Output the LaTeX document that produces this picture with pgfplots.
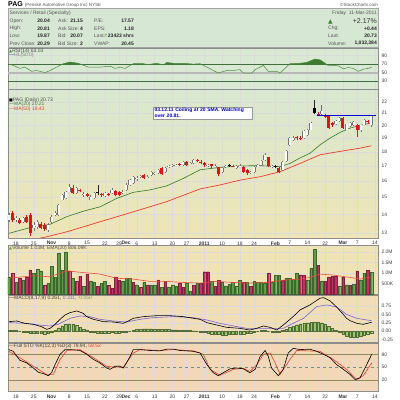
\documentclass[border=0pt]{standalone}
\usepackage{pgfplots}
\pgfplotsset{compat=1.18}
\usepackage{pgfplotstable}
\usetikzlibrary{shadows}
\usepackage{fontspec}
\setmainfont{Liberation Sans}
\newfontfamily\symfont{DejaVu Sans}

\definecolor{hdrbg}{HTML}{D6E8D3}
\definecolor{rsibg}{HTML}{D9E9D3}
\definecolor{pricetop}{HTML}{D9E8D1}
\definecolor{pricebot}{HTML}{EFE5B6}
\definecolor{volbg}{HTML}{F0E3B5}
\definecolor{macdbg}{HTML}{F1DDB6}
\definecolor{stobg}{HTML}{F2D8B8}
\definecolor{ma20}{HTML}{2F7A22}
\definecolor{ma50}{HTML}{F03A2A}
\definecolor{candred}{HTML}{E01414}
\definecolor{volgreen}{HTML}{5E9E48}
\definecolor{volred}{HTML}{C33262}
\definecolor{volema}{HTML}{F04A3A}
\definecolor{rsiline}{HTML}{4A8B3C}
\definecolor{rsifill}{HTML}{3C7D32}
\definecolor{rsiref}{HTML}{3F6F3F}
\definecolor{sigline}{HTML}{7A62D8}
\definecolor{histgreen}{HTML}{95C76A}
\definecolor{stoline}{HTML}{8C8C5C}
\definecolor{stored}{HTML}{F03A2A}
\definecolor{lblgray}{HTML}{555555}

\pgfplotstableread{
i o h l c t
0 13.68 14.05 13.60 13.96 0
1 14.09 14.20 13.60 13.68 1
2 13.70 13.90 13.60 13.78 0
3 13.68 13.80 13.45 13.50 1
4 13.59 13.85 13.50 13.77 0
5 13.87 13.95 13.50 13.59 1
6 13.96 14.05 12.85 12.97 1
7 13.25 13.60 13.10 13.40 0
8 13.32 13.70 13.20 13.59 0
9 13.45 13.55 13.20 13.27 1
10 13.41 13.50 13.10 13.20 1
11 13.14 13.50 13.05 13.41 0
12 13.59 13.95 13.50 13.86 0
13 13.96 14.20 13.90 14.05 0
14 13.96 14.60 13.90 14.53 0
15 14.83 15.20 14.80 15.13 0
16 14.93 15.40 14.90 15.33 0
17 15.33 15.80 15.30 15.64 0
18 15.58 15.75 15.20 15.23 1
19 15.23 15.60 15.20 15.54 0
20 15.42 15.50 15.30 15.36 1
21 15.10 15.30 15.00 15.18 0
22 15.18 15.25 15.00 15.05 1
23 14.85 15.10 14.80 15.03 0
24 14.95 15.30 14.90 15.23 0
25 15.32 15.75 15.10 15.26 2
26 15.18 15.25 15.00 15.10 1
27 15.05 15.30 15.00 15.22 0
28 15.16 15.25 15.05 15.12 1
29 15.23 15.55 15.20 15.44 0
30 15.38 15.45 15.05 15.13 1
31 15.33 15.40 15.05 15.15 1
32 15.28 15.45 15.20 15.34 0
33 15.45 15.85 15.40 15.75 0
34 15.75 16.15 15.70 16.06 0
35 15.85 16.35 15.80 16.28 0
36 16.10 16.30 16.00 16.20 0
37 16.26 16.40 16.20 16.30 0
38 16.39 16.45 16.10 16.17 1
39 16.24 16.40 16.20 16.28 0
40 16.39 16.65 16.35 16.57 0
41 16.49 16.60 16.40 16.52 0
42 16.50 16.80 16.45 16.73 0
43 16.84 16.90 16.40 16.45 1
44 16.61 16.90 16.55 16.84 0
45 16.92 17.05 16.85 16.97 0
46 17.02 17.15 16.95 17.06 0
47 17.04 17.15 17.00 17.08 0
48 17.14 17.20 17.00 17.10 1
49 17.06 17.35 17.00 17.29 0
50 17.29 17.35 17.00 17.06 1
51 17.14 17.25 17.10 17.18 0
52 17.18 17.45 17.10 17.41 0
53 17.40 17.48 17.25 17.32 1
54 17.30 17.38 17.15 17.25 1
55 17.20 17.25 16.95 17.06 1
56 16.98 17.15 16.90 17.06 0
57 17.10 17.15 16.85 16.97 1
58 16.98 17.10 16.90 17.01 0
59 16.90 16.95 16.30 16.43 1
60 16.60 16.90 16.55 16.84 0
61 16.93 17.05 16.85 16.97 0
62 17.04 17.10 16.90 16.99 2
63 16.99 17.05 16.90 16.95 1
64 16.84 17.05 16.80 16.99 0
65 16.98 17.10 16.90 17.02 0
66 16.95 17.00 16.50 16.57 1
67 16.72 16.80 16.40 16.52 1
68 16.54 16.65 16.45 16.57 0
69 16.57 17.00 16.50 16.95 0
70 16.95 17.15 16.90 17.08 0
71 17.08 17.40 17.00 17.33 0
72 17.41 17.90 17.35 17.78 0
73 17.60 17.65 16.90 16.97 1
74 16.94 17.05 16.85 16.97 0
75 17.02 17.08 16.85 16.95 2
76 16.84 16.90 16.50 16.62 1
77 16.72 17.35 16.65 17.29 0
78 17.33 18.10 17.30 18.02 0
79 18.51 19.10 18.45 19.01 0
80 18.90 19.20 18.80 19.05 0
81 19.10 19.15 18.90 19.00 1
82 19.05 19.15 18.85 18.95 1
83 19.01 19.60 18.95 19.53 0
84 19.27 19.75 19.20 19.66 0
85 19.66 20.30 19.60 20.19 0
86 21.43 22.15 20.95 21.01 2
87 20.95 21.10 20.80 20.85 1
88 20.90 21.75 20.85 21.15 0
89 20.80 20.90 20.60 20.70 1
90 20.73 20.80 19.70 19.79 1
91 20.19 20.30 19.90 20.00 1
92 20.15 20.40 20.05 20.32 0
93 20.32 20.65 20.25 20.60 0
94 20.60 20.65 19.70 19.79 1
95 19.66 20.15 19.60 20.10 0
96 19.92 20.25 19.85 20.19 0
97 20.06 20.35 19.95 20.27 0
98 20.06 20.10 19.10 19.66 1
99 19.66 20.05 19.50 20.00 0
100 20.06 20.50 20.00 20.46 0
101 20.38 20.45 20.10 20.29 1
102 20.04 20.81 19.87 20.73 0
}\ohlc

\pgfplotstableread{
i v r
0 0.82 0
1 0.99 1
2 0.55 0
3 0.75 1
4 0.66 0
5 0.82 1
6 1.15 1
7 0.99 0
8 1.17 0
9 1.10 0
10 0.42 1
11 0.50 0
12 1.33 0
13 0.79 0
14 1.95 0
15 1.15 0
16 2.00 0
17 1.10 1
18 0.75 0
19 0.60 1
20 0.85 1
21 0.39 0
22 0.95 1
23 0.63 0
24 0.55 0
25 0.36 1
26 0.52 0
27 0.60 0
28 0.42 1
29 0.26 1
30 0.82 1
31 0.66 1
32 0.60 0
33 0.75 0
34 0.75 0
35 0.55 1
36 0.44 0
37 0.31 1
38 0.55 0
39 0.44 1
40 0.44 0
41 0.44 0
42 0.67 1
43 0.31 0
44 0.60 1
45 0.31 0
46 0.44 0
47 0.39 0
48 0.52 1
49 0.31 1
50 0.50 0
51 0.15 0
52 0.42 1
53 0.52 0
54 0.52 1
55 1.06 1
56 1.06 1
57 0.60 0
58 0.36 1
59 0.66 1
60 0.55 0
61 0.39 0
62 0.47 0
63 0.55 0
64 0.39 0
65 0.66 0
66 0.55 1
67 0.55 0
68 0.36 1
69 0.60 0
70 0.55 0
71 0.55 0
72 0.50 0
73 0.98 1
74 0.55 0
75 0.90 0
76 0.90 0
77 0.66 1
78 0.75 0
79 0.75 0
80 0.71 0
81 0.99 0
82 0.91 1
83 0.90 1
84 0.67 0
85 1.22 0
86 2.14 0
87 1.37 1
88 0.63 0
89 0.60 1
90 0.82 1
91 0.83 1
92 0.83 1
93 0.39 0
94 0.82 1
95 0.44 0
96 0.42 1
97 0.47 0
98 1.10 1
99 0.67 0
100 0.99 0
101 1.14 1
102 1.03 0
}\vol

\pgfplotstableread{
i h
0 0.03
1 0.03
2 0.02
3 0.00
4 -0.02
5 -0.04
6 -0.05
7 -0.06
8 -0.07
9 -0.07
10 -0.08
11 -0.06
12 -0.02
13 0.03
14 0.10
15 0.16
16 0.20
17 0.22
18 0.21
19 0.18
20 0.12
21 0.06
22 0.02
23 -0.02
24 -0.04
25 -0.05
26 -0.05
27 -0.05
28 -0.05
29 -0.04
30 -0.05
31 -0.05
32 -0.04
33 -0.02
34 0.00
35 0.03
36 0.05
37 0.06
38 0.07
39 0.07
40 0.07
41 0.06
42 0.06
43 0.05
44 0.05
45 0.05
46 0.04
47 0.04
48 0.03
49 0.03
50 0.02
51 0.02
52 0.01
53 0.00
54 -0.02
55 -0.04
56 -0.06
57 -0.08
58 -0.09
59 -0.10
60 -0.11
61 -0.11
62 -0.10
63 -0.09
64 -0.09
65 -0.08
66 -0.08
67 -0.07
68 -0.05
69 -0.03
70 0.00
71 0.02
72 0.02
73 0.00
74 -0.02
75 -0.03
76 -0.02
77 0.02
78 0.06
79 0.11
80 0.15
81 0.19
82 0.22
83 0.24
84 0.25
85 0.26
86 0.27
87 0.27
88 0.25
89 0.21
90 0.15
91 0.08
92 0.02
93 -0.04
94 -0.10
95 -0.15
96 -0.18
97 -0.18
98 -0.17
99 -0.15
100 -0.11
101 -0.08
102 -0.05
}\hist

\pgfplotsset{
  panel/.style={
    scale only axis, width=370pt, anchor=north west,
    xmin=-0.25, xmax=103.86,
    axis line style={draw=black!45, line width=0.4pt},
    xtick={2,7,12,17,22,27,31,33,36,41,46,50,55,60,65,69,75,79,84,89,94,98,103},
    xticklabels={},
    xmajorgrids, ymajorgrids,
    major grid style={draw=black!14, line width=0.3pt},
    major tick length=0pt,
    yticklabel pos=right,
    yticklabel style={font=\fontsize{5}{6}\selectfont, text=black!75},
    /pgf/number format/assume math mode=true,
  },
  dates/.style={
    xticklabels={18,25,\textbf{Nov},8,15,22,29,\textbf{Dec},6,13,20,27,\textbf{2011},10,18,24,\textbf{Feb},7,14,22,\textbf{Mar},7,14},
    xticklabel style={font=\fontsize{5}{6}\selectfont, text=black!80},
  },
  cbar/.style 2 args={only marks, mark=none, mark size=0pt, mark options={draw=none, fill=none}, forget plot,
    error bars/y dir=plus, error bars/y explicit, error bars/error mark=none,
    error bars/error bar style={draw=#1, line width=#2}},
}

\tikzset{hl/.style={font=\fontsize{5}{6}\selectfont, inner sep=0pt, text=lblgray},
         hv/.style={font=\fontsize{5}{6}\selectfont\bfseries, inner sep=0pt, text=black!85},
         pl/.style={font=\fontsize{5}{6}\selectfont, inner sep=0pt, anchor=west}}

\begin{document}
\begin{tikzpicture}
\useasboundingbox[fill=white] (0pt,0pt) rectangle (400pt,-400pt);

% ---------- header ----------
\node[anchor=west, inner sep=0pt] at (8pt,-4.5pt) {\fontsize{7}{8}\selectfont\bfseries PAG\ \fontsize{4.5}{5}\selectfont\mdseries\color{lblgray}(Penske Automotive Group Inc) NYSE};
\node[anchor=east, inner sep=0pt] at (378pt,-4.5pt) {\fontsize{4.5}{5}\selectfont\color{lblgray}©StockCharts.com};
\draw[draw=black!35, fill=hdrbg] (8pt,-8.5pt) rectangle (378pt,-47.5pt);
\node[hl, anchor=west] at (9.5pt,-13.5pt) {Services / Retail (Specialty)};
\node[hl, anchor=west] at (9.5pt,-21pt) {Open:};
\node[hl, anchor=west] at (9.5pt,-28.5pt) {High:};
\node[hl, anchor=west] at (9.5pt,-36pt) {Low:};
\node[hl, anchor=west] at (9.5pt,-43.5pt) {Prev Close:};
\node[hv, anchor=east] at (50pt,-21pt) {20.04};
\node[hv, anchor=east] at (50pt,-28.5pt) {20.81};
\node[hv, anchor=east] at (50pt,-36pt) {19.87};
\node[hv, anchor=east] at (50pt,-43.5pt) {20.29};
\node[hl, anchor=west] at (58pt,-21pt) {Ask:};
\node[hl, anchor=west] at (58pt,-28.5pt) {Ask Size:};
\node[hl, anchor=west] at (58pt,-36pt) {Bid:};
\node[hl, anchor=west] at (58pt,-43.5pt) {Bid Size:};
\node[hv, anchor=east] at (83pt,-21pt) {21.15};
\node[hv, anchor=east] at (83pt,-28.5pt) {4};
\node[hv, anchor=east] at (83pt,-36pt) {20.07};
\node[hv, anchor=east] at (83pt,-43.5pt) {2};
\node[hl, anchor=west] at (94pt,-21pt) {P/E:};
\node[hl, anchor=west] at (94pt,-28.5pt) {EPS:};
\node[hl, anchor=west] at (94pt,-36pt) {Last:};
\node[hl, anchor=west] at (94pt,-43.5pt) {VWAP:};
\node[hv, anchor=east] at (134pt,-21pt) {17.57};
\node[hv, anchor=east] at (134pt,-28.5pt) {1.18};
\node[hv, anchor=east] at (134pt,-36pt) {{\color{volgreen}\symfont\fontsize{4.5}{5}\selectfont↑}23423 shrs};
\node[hv, anchor=east] at (134pt,-43.5pt) {20.45};
\node[hl, anchor=east] at (377pt,-13.5pt) {Friday\ \ 11-Mar-2011};
\node[anchor=west, inner sep=0pt] at (328pt,-21.5pt) {\color{volgreen!80!black}\symfont\fontsize{6}{7}\selectfont▲};
\node[anchor=east, inner sep=0pt] at (377pt,-21.5pt) {\fontsize{7}{8}\selectfont\color{black!80}+2.17\%};
\node[hl, anchor=west] at (328pt,-28.5pt) {Chg:};
\node[hl, anchor=west] at (328pt,-36pt) {Last:};
\node[hl, anchor=west] at (328pt,-43.5pt) {Volume:};
\node[hv, anchor=east] at (377pt,-28.5pt) {+0.44};
\node[hv, anchor=east] at (377pt,-36pt) {20.73};
\node[hv, anchor=east] at (377pt,-43.5pt) {1,032,384};

% ---------- RSI ----------
\begin{axis}[panel, at={(8pt,-48pt)}, height=41.5pt, ymin=10.2, ymax=108,
  ytick={10,30,50,70,90}, axis background/.style={fill=rsibg}]
\addplot[draw=black!28, line width=2.2pt, forget plot] coordinates {(-1,50) (105,50)};
\addplot[draw=rsiref, line width=0.5pt, forget plot] coordinates {(-1,70) (105,70)};
\addplot[draw=rsiref, line width=0.5pt, forget plot] coordinates {(-1,30) (105,30)};
\begin{scope}
\clip (axis cs:-1,70) rectangle (axis cs:105,110);
\addplot[fill=rsifill, draw=none, forget plot] coordinates {
(0,70)(1.25,67)(3.1,60)(4.5,63)(6.4,53)(7.8,55)(10.2,50)(11.6,55)(15.3,71)(17.2,75)(19.5,72)(22.4,63)(25.6,63)(28.5,65)(29.9,60)(31.3,63)(32.7,60)(35,71)(37.8,71)(39.2,69)(41.6,72)(43.5,68)(44.4,74)(46.3,72)(49.1,72)(51.9,70)(53.8,71)(55.7,63)(58.9,49)(61.3,55)(63.2,55)(65,57)(66,49)(68.3,49)(69.3,57)(71.6,67)(73,53)(75.4,53)(76.3,49)(79.1,71)(81.9,72)(83.8,74)(86.1,82)(87.6,80)(89,72)(89.9,66)(91.3,67)(92.7,66)(94.1,59)(95.5,62)(96.9,60)(98.3,53)(99.7,58)(101.2,60)(102.1,63)
} \closedcycle;
\end{scope}
\addplot[draw=rsiline, line width=0.5pt] coordinates {
(0,70)(1.25,67)(3.1,60)(4.5,63)(6.4,53)(7.8,55)(10.2,50)(11.6,55)(15.3,71)(17.2,75)(19.5,72)(22.4,63)(25.6,63)(28.5,65)(29.9,60)(31.3,63)(32.7,60)(35,71)(37.8,71)(39.2,69)(41.6,72)(43.5,68)(44.4,74)(46.3,72)(49.1,72)(51.9,70)(53.8,71)(55.7,63)(58.9,49)(61.3,55)(63.2,55)(65,57)(66,49)(68.3,49)(69.3,57)(71.6,67)(73,53)(75.4,53)(76.3,49)(79.1,71)(81.9,72)(83.8,74)(86.1,82)(87.6,80)(89,72)(89.9,66)(91.3,67)(92.7,66)(94.1,59)(95.5,62)(96.9,60)(98.3,53)(99.7,58)(101.2,60)(102.1,63)
};
\end{axis}

% ---------- Price ----------
\begin{axis}[panel, dates, at={(8pt,-89.5pt)}, height=148.5pt, ymode=log,
  ymin=12.73, ymax=23.1, ytick={13,14,15,16,17,18,19,20,21,22},
  yticklabels={13,14,15,16,17,18,19,20,21,22},
  axis background/.style={top color=pricetop, bottom color=pricebot}]
% moving averages
\addplot[draw=ma50, line width=0.7pt] coordinates {
(0,12.45)(6,12.62)(10.6,12.79)(16.3,13.05)(25.7,13.59)(35,14.14)(44.4,14.73)(53.8,15.5)(59.4,15.75)(65.1,16.06)(70.7,16.28)(76.3,16.61)(81.9,17.17)(87.6,17.78)(93.2,18.02)(98.8,18.26)(102,18.43)};
\addplot[draw=ma20, line width=0.6pt] coordinates {
(0,12.97)(6.9,13.32)(11.6,13.45)(16.3,13.87)(21,14.18)(25.7,14.43)(30.4,14.93)(35,15.29)(39.7,15.44)(44.4,15.69)(49.1,16.17)(53.8,16.74)(59.4,16.9)(65.1,17.0)(70.7,17.02)(76.3,16.95)(79.1,17.17)(81.9,17.55)(84.8,17.9)(87.6,18.51)(90.4,19.01)(93.2,19.45)(96,19.79)(98.8,20.0)(102,20.21)};
% wicks
\addplot[cbar={black!55}{0.4pt}, restrict expr to domain={\thisrow{t}}{0:0.5}]
  table[x=i, y=l, y error expr=\thisrow{h}-\thisrow{l}] {\ohlc};
\addplot[cbar={black!85}{0.4pt}, restrict expr to domain={\thisrow{t}}{1.5:2.5}]
  table[x=i, y=l, y error expr=\thisrow{h}-\thisrow{l}] {\ohlc};
\addplot[cbar={candred}{0.4pt}, restrict expr to domain={\thisrow{t}}{0.5:1.5}]
  table[x=i, y=l, y error expr=\thisrow{h}-\thisrow{l}] {\ohlc};
% hollow bodies: grey outline then white interior
\addplot[cbar={black!55}{3.0pt}, restrict expr to domain={\thisrow{t}}{0:0.5}]
  table[x=i, y=o, y error expr=\thisrow{c}-\thisrow{o}] {\ohlc};
\addplot[cbar={white}{2.0pt}, restrict expr to domain={\thisrow{t}}{0:0.5}]
  table[x=i, y=o, y error expr=\thisrow{c}-\thisrow{o}] {\ohlc};
% filled bodies
\addplot[cbar={candred}{3.0pt}, restrict expr to domain={\thisrow{t}}{0.5:1.5}]
  table[x=i, y=c, y error expr=\thisrow{o}-\thisrow{c}] {\ohlc};
\addplot[cbar={black}{3.0pt}, restrict expr to domain={\thisrow{t}}{1.5:2.5}]
  table[x=i, y=c, y error expr=\thisrow{o}-\thisrow{c}] {\ohlc};
% resistance line
\addplot[draw=blue!85!black, line width=0.8pt] coordinates {(86.6,20.81) (103.2,20.81)};
% annotation
\node[draw=black!40, fill=white, anchor=north west, inner xsep=1.5pt, inner ysep=1.2pt,
  text width=96pt, align=left, font=\fontsize{5}{6}\selectfont\bfseries, text=blue!75!black,
  drop shadow={shadow xshift=0.8pt, shadow yshift=-0.8pt, opacity=0.35}]
  at (axis cs:40.5,21.56) {03.12.11 Coiling at 20 SMA. Watching\\over 20.81.};
\end{axis}

% ---------- Volume ----------
\begin{axis}[panel, at={(8pt,-245pt)}, height=49pt, ymin=0, ymax=2.333,
  ytick={0.5,1,1.5,2}, yticklabels={500K,1.0M,1.5M,2.0M},
  axis background/.style={fill=volbg}]
\addplot[ybar, bar width=2.6pt, bar shift=0pt, fill=volgreen, draw=volgreen!65!black, line width=0.2pt,
  restrict expr to domain={\thisrow{r}}{0:0.5}] table[x=i, y=v] {\vol};
\addplot[ybar, bar width=2.6pt, bar shift=0pt, fill=volred, draw=volred!65!black, line width=0.2pt,
  restrict expr to domain={\thisrow{r}}{0.5:1.5}] table[x=i, y=v] {\vol};
\addplot[draw=volema, line width=0.6pt] coordinates {
(0,0.75)(6.9,0.87)(11.6,0.82)(16.3,1.1)(21,1.02)(25.6,0.95)(30.3,0.75)(35,0.71)(39.7,0.6)(44.4,0.6)(49.1,0.55)(53.8,0.52)(58.5,0.6)(63.2,0.55)(67.8,0.52)(72.5,0.55)(77.2,0.66)(81.9,0.71)(84.7,0.79)(87.5,0.95)(91.3,0.9)(96,0.79)(98.8,0.71)(101.6,0.8)(102.1,0.81)};
\end{axis}

% ---------- MACD ----------
\begin{axis}[panel, at={(8pt,-295pt)}, height=47.5pt, ymin=-0.344, ymax=1.078,
  ytick={-0.25,0,0.25,0.5,0.75}, yticklabels={-0.25,0.00,0.25,0.50,0.75},
  axis background/.style={fill=macdbg}]
\addplot[ybar, bar width=2.5pt, bar shift=0pt, fill=histgreen, draw=histgreen!55!black, line width=0.2pt]
  table[x=i, y=h] {\hist};
\addplot[draw=sigline, line width=0.6pt] coordinates {
(0,0.25)(4.5,0.23)(9.2,0.17)(11.6,0.15)(13.9,0.20)(17.2,0.38)(20,0.45)(22.8,0.43)(25.6,0.35)(29.4,0.30)(33.1,0.27)(36.9,0.35)(40.6,0.40)(46.3,0.43)(51.9,0.40)(55.7,0.33)(59.4,0.23)(63.2,0.15)(66.9,0.08)(70.7,0.08)(74.4,0.08)(77.2,0.08)(80,0.23)(82.9,0.38)(86.6,0.73)(89.4,0.78)(92.2,0.72)(95,0.50)(97.9,0.38)(100.7,0.33)(102.1,0.31)};
\addplot[draw=black, line width=0.6pt] coordinates {
(0,0.28)(2.2,0.30)(4.5,0.23)(6.9,0.20)(9.2,0.13)(10.6,0.05)(11.6,0.08)(13,0.20)(14.4,0.35)(15.8,0.48)(17.2,0.55)(19.1,0.60)(20.9,0.53)(21.9,0.43)(23.8,0.35)(26.6,0.28)(29.4,0.27)(32.2,0.23)(33.6,0.30)(35,0.38)(37.8,0.43)(41.6,0.46)(45.3,0.46)(49.1,0.43)(51.9,0.38)(53.8,0.35)(55.7,0.25)(58.5,0.18)(61.3,0.11)(65,0.08)(67.8,0.03)(69.7,0.08)(71.6,0.15)(73.5,0.11)(75.4,0.03)(77.2,0.18)(79.1,0.35)(81,0.53)(81.9,0.63)(84.7,0.78)(87.5,0.98)(88.5,1.0)(90.4,0.90)(92.2,0.72)(94.1,0.50)(95,0.38)(96,0.31)(97.9,0.23)(99.7,0.20)(101.6,0.25)(102.1,0.26)};
\end{axis}

% ---------- Full STO ----------
\begin{axis}[panel, dates, at={(8pt,-343pt)}, height=48.5pt, ymin=-6.9, ymax=106.4,
  ytick={20,50,80}, axis background/.style={fill=stobg}]
\addplot[draw=stoline, line width=0.6pt, forget plot] coordinates {(-1,80) (105,80)};
\addplot[draw=stoline, line width=0.6pt, forget plot] coordinates {(-1,20) (105,20)};
\addplot[draw=stoline, line width=0.5pt, dashed, forget plot] coordinates {(-1,50) (105,50)};
\addplot[draw=stored, line width=0.6pt] coordinates {
(0,87)(3.1,72)(6.9,52)(10.6,33)(12.5,33)(14.4,68)(16.3,89)(20,91)(23.8,72)(27.5,52)(29.9,50)(32.2,50)(35,83)(36.9,91)(42.5,89)(46.3,91)(51.9,88)(54.7,80)(56.6,45)(59.4,31)(63.2,45)(66,47)(67.8,40)(69.7,55)(71.6,80)(73.5,83)(74.9,60)(76.3,33)(79.1,68)(81,89)(87.5,87)(91.3,68)(95,45)(97.9,21)(99.7,30)(102.1,60)};
\addplot[draw=black, line width=0.6pt] coordinates {
(0,91)(1.2,87)(3.1,66)(5,60)(6.9,48)(8.3,38)(9.7,35)(11.1,30)(12,37)(13,56)(14.4,80)(15.8,91)(17.2,91)(20,89)(21.9,80)(23.8,68)(25.6,60)(27.5,48)(28.5,45)(29.9,52)(31.3,52)(32.2,48)(33.1,60)(34.1,75)(35,91)(36.9,91)(39.7,89)(42.5,88)(44.4,92)(46.3,92)(48.1,89)(50,88)(51.9,87)(53.8,83)(55.7,56)(57.5,37)(58.9,30)(60.3,37)(62.2,46)(64.1,48)(66,46)(67.8,37)(69.3,45)(70.7,75)(72.1,89)(73,75)(73.9,48)(75.8,30)(77.2,45)(78.6,83)(80,94)(81.9,91)(84.7,92)(86.6,87)(88.5,80)(90.4,72)(92.2,56)(94.1,45)(96,33)(97.4,21)(98.8,25)(100.2,48)(102.1,80)};
\end{axis}

% ---------- panel labels ----------
\node[pl] at (9pt,-51.5pt) {{\color{rsiline}\symfont\fontsize{4}{5}\selectfont▲}\color{black!70}RSI(14) 63.03};
\node[pl] at (9pt,-55.5pt) {{\color{blue!60!gray}—}\color{gray}HL(50.0)};
\node[pl] at (9pt,-100pt) {{\symfont\fontsize{4}{5}\selectfont■}\color{black!70}PAG (Daily) 20.73};
\node[pl] at (9pt,-104.5pt) {{\color{ma20}—}\color{ma20!70!gray}MA(20) 20.21};
\node[pl] at (9pt,-109pt) {{\color{ma50}—}\color{ma50!80!gray}MA(50) 18.43};
\node[pl] at (9pt,-248.5pt) {{\color{volgreen}\symfont\fontsize{4}{5}\selectfont▲}\color{black!70}Volume 1.03M, EMA(20) 806.09K};
\node[pl] at (9pt,-298.5pt) {\color{black!75}—MACD(8,17,9) 0.261, {\color{sigline}0.311}, {\color{histgreen!80!black}-0.050}};
\node[pl] at (9pt,-346.5pt) {\color{black!75}—Full STO \%K(12,3) \%D(3) 79.94, {\color{stored}59.52}};
\end{tikzpicture}
\end{document}
